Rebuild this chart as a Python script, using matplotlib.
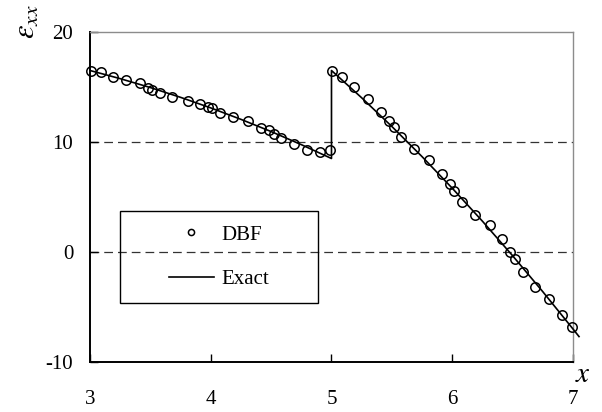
import matplotlib
matplotlib.use("Agg")
import matplotlib.pyplot as plt
from matplotlib.patches import Rectangle

plt.rcParams['font.family'] = ['Liberation Serif', 'DejaVu Serif']
plt.rcParams['mathtext.fontset'] = 'stix'

# DBF solution points
dbf_x = [3.005, 3.088, 3.19, 3.30, 3.41, 3.48, 3.51, 3.577, 3.68, 3.81, 3.91,
         3.975, 4.01, 4.08, 4.187, 4.31, 4.42, 4.48, 4.52, 4.58, 4.687, 4.80,
         4.905, 4.99,
         5.007, 5.087, 5.19, 5.305, 5.41, 5.473, 5.515, 5.578, 5.68, 5.81,
         5.915, 5.98, 6.017, 6.083, 6.185, 6.315, 6.415, 6.48, 6.52, 6.586,
         6.688, 6.798, 6.906, 6.988]
dbf_y = [16.45, 16.33, 15.94, 15.6, 15.36, 14.88, 14.73, 14.45, 14.06, 13.75,
         13.48, 13.2, 13.06, 12.67, 12.24, 11.94, 11.3, 11.09, 10.76, 10.36,
         9.82, 9.24, 9.06, 9.24,
         16.45, 15.88, 15.0, 13.88, 12.76, 11.94, 11.33, 10.48, 9.36, 8.36,
         7.09, 6.15, 5.55, 4.55, 3.39, 2.42, 1.18, -0.03, -0.67, -1.82,
         -3.15, -4.24, -5.7, -6.82]

# exact solution, with the jump at x = 5
exact_x = [3.0, 3.25, 3.5, 3.75, 4.0, 4.25, 4.5, 4.75, 5.0,
           5.0, 5.25, 5.5, 5.75, 6.0, 6.25, 6.5, 6.75, 7.0, 7.05]
exact_y = [16.5, 15.76, 14.95, 14.06, 13.1, 12.06, 10.95, 9.76, 8.5,
           16.5, 14.02, 11.41, 8.67, 5.8, 2.8, -0.34, -3.61, -7.0, -7.69]

xticks = [3, 4, 5, 6, 7]
yticks = [-10, 0, 10, 20]
grid_levels = [0, 10]

fig = plt.figure(figsize=(6.02, 4.12), dpi=100)
ax = fig.add_axes([0.1495, 0.1214, 0.8023, 0.8009])

for lev in grid_levels:
    ax.axhline(lev, color='#333333', lw=0.9, dashes=(7, 4), zorder=1)

ax.plot(exact_x, exact_y, color='black', lw=1.2, label='Exact', zorder=3,
        clip_on=False)
ax.plot(dbf_x, dbf_y, 'o', mfc='none', mec='black', mew=1.1, ms=6.8,
        label='DBF', zorder=4, clip_on=False)

ax.set_xlim(3, 7)
ax.set_ylim(-10, 20)
ax.set_xticks(xticks)
ax.set_yticks(yticks)
ax.set_xticklabels([str(t) for t in xticks])
ax.set_yticklabels([str(t) for t in yticks])
ax.tick_params(axis='both', direction='in', length=6, width=1,
               labelsize=15, color='black')
ax.tick_params(axis='x', pad=20)
ax.tick_params(axis='y', pad=12)

for side in ['left', 'bottom']:
    ax.spines[side].set_color('black')
    ax.spines[side].set_linewidth(1.4)
for side in ['top', 'right']:
    ax.spines[side].set_color('#8c8c8c')
    ax.spines[side].set_linewidth(1.0)

# legend frame drawn separately, entries centred inside it
ax.add_patch(Rectangle((0.062, 0.179), 0.41, 0.279, transform=ax.transAxes,
                       fill=False, ec='black', lw=1.0, zorder=5))
handles, labels = ax.get_legend_handles_labels()
ax.legend(handles[::-1], labels[::-1], loc='center',
          bbox_to_anchor=(0.267, 0.318), frameon=False, fontsize=15,
          handlelength=2.2, handletextpad=0.35, labelspacing=1.2,
          markerscale=0.65)

ax.text(-0.13, 1.03, r'$\varepsilon_{xx}$', transform=ax.transAxes,
        rotation=90, ha='center', va='center', fontsize=22)
ax.text(1.02, -0.04, r'$x$', transform=ax.transAxes,
        ha='center', va='center', fontsize=21)

fig.savefig('out.png', dpi=100)
